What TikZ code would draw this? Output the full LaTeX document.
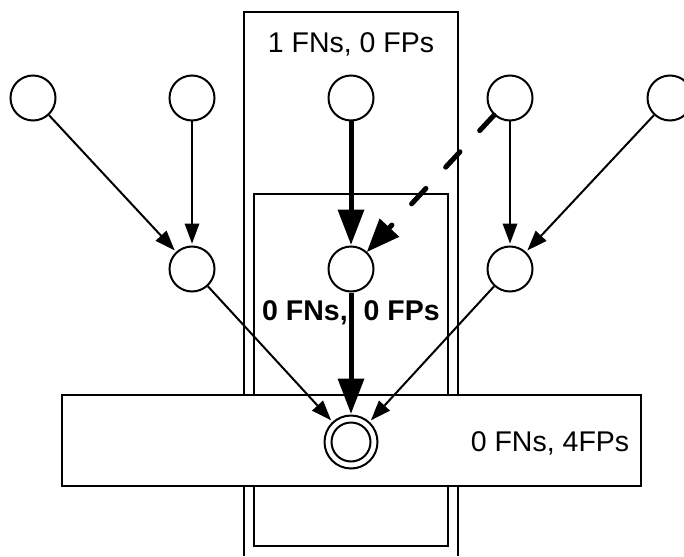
\documentclass[tikz,border=0pt]{standalone}
\usepackage{fontspec}
\setmainfont{Liberation Sans}
\usetikzlibrary{arrows.meta}
\tikzset{
  frame/.style={draw, line width=2pt},
  vtx/.style={circle, draw, fill=white, line width=2pt, minimum size=45pt, inner sep=0pt},
  thinarr/.style={line width=2pt, shorten >=2pt, -{Triangle[length=20pt, width=15pt, line width=0pt]}},
  thickarr/.style={line width=5pt, shorten >=1pt, -{Triangle[length=35pt, width=27pt, line width=0pt]}},
  dasharr/.style={line width=5pt, line cap=round, dash pattern=on 21pt off 29pt, -{Triangle[length=33pt, width=27pt, line width=0pt]}},
  lbl/.style={inner sep=0pt, anchor=base, font=\fontsize{28.5}{34}\selectfont},
}
\begin{document}
\begin{tikzpicture}[x=1pt, y=-1pt]
\useasboundingbox (0,0) rectangle (684,556);
% tall rectangles
\draw[frame] (244,556) -- (244,12) -- (458,12) -- (458,556);
\draw[frame] (254,194) rectangle (448,546);
% wide rectangle
\draw[frame, fill=white] (62,395) rectangle (641,486);
% top row
\node[vtx] (t1) at (33,98) {};
\node[vtx] (t2) at (192,98) {};
\node[vtx] (t3) at (351,98) {};
\node[vtx] (t4) at (510,98) {};
\node[vtx] (t5) at (670,98) {};
% middle row
\node[vtx] (m1) at (192,269) {};
\node[vtx] (m2) at (351,269) {};
\node[vtx] (m3) at (510,269) {};
% double circle
\node[vtx, minimum size=53pt] (d) at (351,442) {};
\node[circle, draw, line width=2pt, minimum size=39pt, inner sep=0pt] (din) at (d.center) {};
% edges
\draw[thinarr] (t1) -- (m1);
\draw[thinarr] (t2) -- (m1);
\draw[thickarr] (t3) -- (m2);
\draw[dasharr] (t4) -- (m2);
\draw[thinarr] (t4) -- (m3);
\draw[thinarr] (t5) -- (m3);
\draw[thinarr] (m1) -- (d);
\draw[thickarr] (m2) -- (d);
\draw[thinarr] (m3) -- (d);
% labels
\node[lbl] (l1) at (351,53) {1 FNs, 0 FPs};
\node[lbl, font=\fontsize{28.5}{34}\selectfont\bfseries] (l2) at (351,320) {0 FNs,\hspace{0.56em}0 FPs};
\node[lbl] (l3) at (550,451) {0 FNs, 4FPs};
\end{tikzpicture}
\end{document}
